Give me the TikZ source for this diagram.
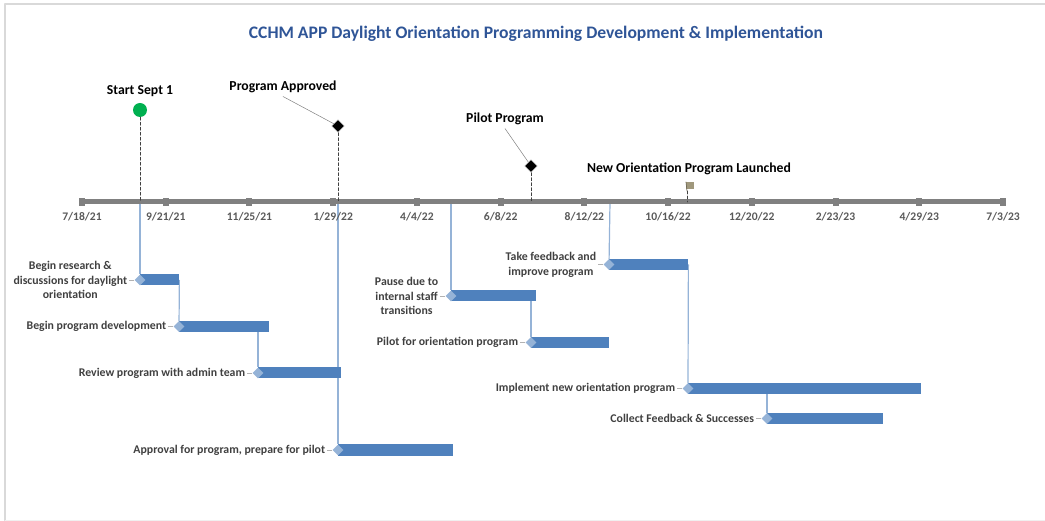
\documentclass[tikz,border=0pt]{standalone}
\usepackage{fontspec}
\setmainfont{Carlito}
\usetikzlibrary{shapes.geometric,positioning,backgrounds}
\definecolor{barblue}{RGB}{79,129,189}
\definecolor{linkblue}{RGB}{149,179,215}
\definecolor{axisgray}{RGB}{128,128,128}
\definecolor{titleblue}{RGB}{47,85,151}
\definecolor{labelgray}{RGB}{64,64,64}
\definecolor{dategray}{RGB}{89,89,89}
\definecolor{flaggray}{RGB}{160,152,124}
\definecolor{startgreen}{RGB}{0,176,80}
\begin{document}
\begin{tikzpicture}[x=1pt, y=-1pt, line cap=round, line join=round,
    bar/.style={fill=barblue, minimum height=11pt, inner sep=0pt, anchor=west},
    startmark/.style={diamond, fill=linkblue, inner sep=0pt, minimum size=11pt},
    task/.style={text=labelgray, font=\bfseries\fontsize{11.8}{14.8}\selectfont, align=center, inner sep=2pt},
    datelabel/.style={text=dategray, font=\bfseries\fontsize{11.6}{13}\selectfont},
    mslabel/.style={font=\bfseries\fontsize{13.7}{16}\selectfont},
    tickmark/.style={fill=axisgray, minimum width=6pt, minimum height=8pt, inner sep=0pt},
    msdiamond/.style={diamond, fill=black, draw=white, line width=0.4pt, inner sep=0pt, minimum size=13pt},
    link/.style={linkblue, line width=1.2pt},
    stem/.style={black!75, line width=0.8pt, dash pattern=on 3pt off 2pt},
    leader/.style={gray, line width=0.5pt}]
  \useasboundingbox (0,0) rectangle (1045,521);
  \draw[black!15, line width=2pt] (5,521) -- (5,4) -- (1045,4);
  \draw[black!6, line width=1pt] (5,520) -- (1045,520);

  \node[font=\bfseries\fontsize{17.6}{20}\selectfont, text=titleblue] (title) at (536,34)
    {CCHM APP Daylight Orientation Programming Development \& Implementation};

  % time axis
  \draw[axisgray, line width=5pt, line cap=butt] (82,202) -- (1003,202);
  \foreach \d [count=\i from 0] in {7/18/21,9/21/21,11/25/21,1/29/22,4/4/22,6/8/22,
      8/12/22,10/16/22,12/20/22,2/23/23,4/29/23,7/3/23} {
    \node[tickmark] (tick\i) at ({82+83.727*\i},202) {};
    \node[datelabel] (date\i) at ({82+83.727*\i},216.5) {\d};
  }

  % milestones
  \node[circle, fill=startgreen, minimum size=14pt, inner sep=0pt] (m1) at (140,110) {};
  \node[mslabel] (m1l) at (140,91) {Start Sept 1};
  \node[msdiamond] (m2) at (338,126) {};
  \node[mslabel] (m2l) at (283,87) {Program Approved};
  \node[msdiamond] (m3) at (531,166) {};
  \node[mslabel] (m3l) at (505,119) {Pilot Program};
  \coordinate (m4) at (687,191);
  \node[mslabel] (m4l) at (689,169) {New Orientation Program Launched};
  \fill[flaggray] (686,182) rectangle (694,189);
  \draw[flaggray!70!black, line width=0.7pt] (m4) -- (686,182);

  \coordinate (a1) at (m1 |- tick0);
  \coordinate (a2) at (m2 |- tick0);
  \coordinate (a3) at (451,202);
  \coordinate (a4) at (610,202);
  \coordinate (a5) at (m3 |- tick0);
  \coordinate (a6) at (m4 |- tick0);
  \draw[stem] (m1) -- (a1);
  \draw[stem] (m2) -- (a2);
  \draw[stem] (m3) -- (a5);
  \draw[stem] (m4) -- (a6);
  \draw[leader] (m2l.south) -- (m2);
  \draw[leader] (m3l.south) -- (m3);

  % tasks
  \node[bar, minimum width=39pt]  (b1) at (140,280) {};
  \node[bar, minimum width=90pt]  (b2) at (179,326.5) {};
  \node[bar, minimum width=83pt]  (b3) at (258,373) {};
  \node[bar, minimum width=115pt] (b4) at (338,450) {};
  \node[bar, minimum width=85pt]  (b5) at (451,296) {};
  \node[bar, minimum width=78pt]  (b6) at (531,342.5) {};
  \node[bar, minimum width=79pt]  (b7) at (609,264.5) {};
  \node[bar, minimum width=233pt] (b8) at (688,388.5) {};
  \node[bar, minimum width=116pt] (b9) at (767,418.5) {};
  \foreach \i in {1,...,9}
    \node[startmark] (s\i) at (b\i.west) {};

  \node[task, left=5pt of s1] (l1) {Begin research \&\\discussions for daylight\\orientation};
  \node[task, left=5pt of s2] (l2) {Begin program development};
  \node[task, left=5pt of s3] (l3) {Review program with admin team};
  \node[task, left=5pt of s4] (l4) {Approval for program, prepare for pilot};
  \node[task, left=5pt of s5] (l5) {Pause due to\\internal staff\\transitions};
  \node[task, left=5pt of s6] (l6) {Pilot for orientation program};
  \node[task, left=5pt of s7] (l7) {Take feedback and\\improve program};
  \node[task, left=5pt of s8] (l8) {Implement new orientation program};
  \node[task, left=5pt of s9] (l9) {Collect Feedback \& Successes};

  \begin{scope}[on background layer]
    \foreach \i in {1,...,9}
      \draw[leader, gray!60] (l\i) -- (s\i);
    \draw[link] (a1) -- (s1);
    \draw[link] (b1.east) -- (s2);
    \draw[link] (s3 |- b2) -- (s3);
    \draw[link] (a2) -- (s4);
    \draw[link] (a3) -- (s5);
    \draw[link] (s6 |- b5) -- (s6);
    \draw[link] (a4) -- (s7);
    \draw[link] (b7.east) -- (s8);
    \draw[link] (s9 |- b8) -- (s9);
  \end{scope}
\end{tikzpicture}
\end{document}
